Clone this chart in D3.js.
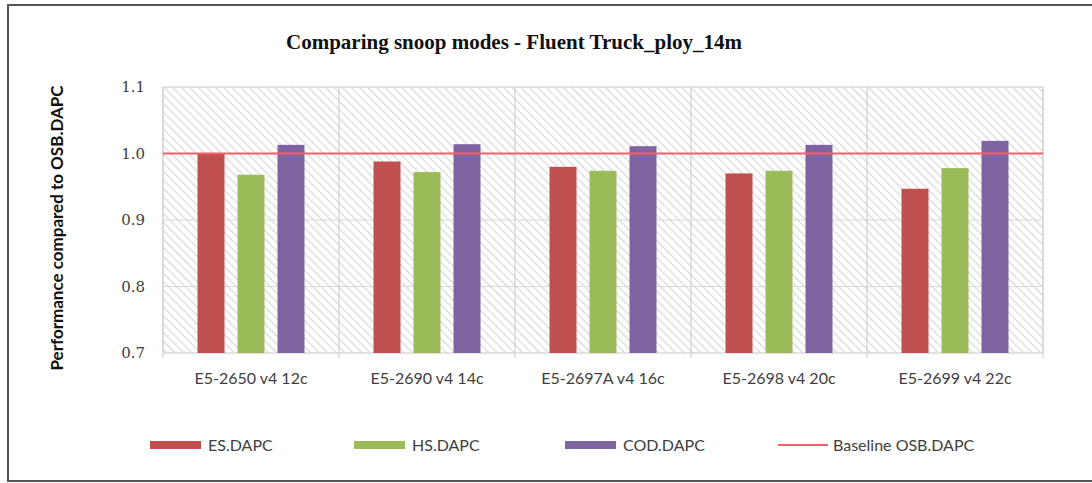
<!DOCTYPE html>
<html>
<head>
<meta charset="utf-8">
<script src="https://cdn.jsdelivr.net/npm/d3@7"></script>
<style>
  body { margin: 0; background: #fff; }
  svg { font-family: Lato, "Open Sans", sans-serif; }
</style>
</head>
<body>
<div id="chart"></div>
<script>
const width = 1092,
   height = 483,
   margin = {top: 87, right: 49, bottom: 130, left: 163};

const categories = ['E5-2650 v4 12c', 'E5-2690 v4 14c', 'E5-2697A v4 16c', 'E5-2698 v4 20c', 'E5-2699 v4 22c'];
const seriesNames = ['ES.DAPC', 'HS.DAPC', 'COD.DAPC'];
const esValues = [1.000, 0.988, 0.980, 0.970, 0.947];
const hsValues = [0.968, 0.972, 0.974, 0.974, 0.978];
const codValues = [1.013, 1.014, 1.011, 1.013, 1.019];
const baselineValue = 1.0;
const yTicks = [0.7, 0.8, 0.9, 1.0, 1.1];
const colors = ['#c0504d', '#9bbb59', '#8064a2'];
const baselineColor = '#f2606a';

const series = [esValues, hsValues, codValues];

const svg = d3.select('#chart')
   .append('svg')
   .attr('width', width)
   .attr('height', height);

// outer frame (left, top, bottom)
svg.append('path')
   .attr('d', `M${width},5 H8 V481 H${width}`)
   .attr('fill', 'none')
   .attr('stroke', '#555')
   .attr('stroke-width', 2);

const defs = svg.append('defs');
const hatch = defs.append('pattern')
   .attr('id', 'hatch')
   .attr('patternUnits', 'userSpaceOnUse')
   .attr('width', 6)
   .attr('height', 6)
   .attr('patternTransform', 'rotate(-45)');
hatch.append('rect').attr('width', 6).attr('height', 6).attr('fill', '#fff');
hatch.append('line')
   .attr('x1', 0).attr('y1', 0).attr('x2', 0).attr('y2', 6)
   .attr('stroke', '#d6d6d6')
   .attr('stroke-width', 2.2);

const plotW = width - margin.left - margin.right,
   plotH = 266;

const x = d3.scaleBand()
   .domain(categories)
   .range([0, plotW])
   .padding(0);

const xInner = d3.scaleBand()
   .domain(d3.range(series.length))
   .range([0, x.bandwidth()])
   .paddingInner(0.325)
   .paddingOuter(0.8625);

const y = d3.scaleLinear()
   .domain([0.7, 1.1])
   .range([plotH, 0]);

const g = svg.append('g')
   .attr('transform', `translate(${margin.left}, ${margin.top})`);

g.append('rect')
   .attr('width', plotW)
   .attr('height', plotH)
   .attr('fill', 'url(#hatch)')
   .attr('stroke', '#d9d9d9');

// horizontal gridlines
g.selectAll('.grid-y')
   .data(yTicks)
   .join('line')
   .attr('class', 'grid-y')
   .attr('x1', 0)
   .attr('x2', plotW)
   .attr('y1', d => y(d))
   .attr('y2', d => y(d))
   .attr('stroke', '#d9d9d9')
   .attr('stroke-width', 1.2);

// vertical category separators
g.selectAll('.grid-x')
   .data(categories.slice(1).concat(['__end']))
   .join('line')
   .attr('class', 'grid-x')
   .attr('x1', d => d === '__end' ? plotW : x(d))
   .attr('x2', d => d === '__end' ? plotW : x(d))
   .attr('y1', 0)
   .attr('y2', plotH + 5)
   .attr('stroke', '#d0d0d0')
   .attr('stroke-width', 1.2);

g.append('line')
   .attr('x1', 0).attr('x2', 0)
   .attr('y1', 0).attr('y2', plotH + 5)
   .attr('stroke', '#d0d0d0')
   .attr('stroke-width', 1.2);

// y axis labels
const yAxis = g.append('g')
   .call(d3.axisLeft(y).tickValues(yTicks).tickFormat(d3.format('.1f')).tickSize(0).tickPadding(18));
yAxis.select('.domain').remove();
yAxis.selectAll('text')
   .style('font-family', '"DejaVu Serif", serif')
   .style('font-size', '15px')
   .attr('fill', '#404040');

// x axis labels
const xAxis = g.append('g')
   .attr('transform', `translate(0, ${plotH})`)
   .call(d3.axisBottom(x).tickSize(0).tickPadding(20));
xAxis.select('.domain').remove();
xAxis.selectAll('text')
   .style('font-family', 'Lato, sans-serif')
   .style('font-size', '16px')
   .attr('fill', '#404040');

// bars
const groups = g.selectAll('.series')
   .data(series)
   .join('g')
   .attr('class', 'series')
   .attr('fill', (d, i) => colors[i]);

groups.each(function(vals, si) {
   d3.select(this).selectAll('rect')
      .data(vals)
      .join('rect')
      .attr('x', (d, ci) => x(categories[ci]) + xInner(si))
      .attr('width', xInner.bandwidth())
      .attr('y', d => y(d))
      .attr('height', d => y(0.7) - y(d));
});

// baseline
g.append('line')
   .attr('x1', 0)
   .attr('x2', plotW)
   .attr('y1', y(baselineValue))
   .attr('y2', y(baselineValue))
   .attr('stroke', baselineColor)
   .attr('stroke-width', 2);

// title
svg.append('text')
   .attr('x', 514)
   .attr('y', 49)
   .attr('text-anchor', 'middle')
   .style('font-family', '"Liberation Serif", serif')
   .style('font-weight', 'bold')
   .style('font-size', '21px')
   .attr('fill', '#111')
   .text('Comparing snoop modes - Fluent Truck_ploy_14m');

// y axis title
svg.append('text')
   .attr('transform', `translate(63, 228) rotate(-90)`)
   .attr('text-anchor', 'middle')
   .style('font-weight', 'bold')
   .style('font-size', '17px')
   .attr('fill', '#111')
   .text('Performance compared to OSB.DAPC');

// legend
const legendItems = [
   {name: seriesNames[0], color: colors[0], type: 'bar', x: 150},
   {name: seriesNames[1], color: colors[1], type: 'bar', x: 354},
   {name: seriesNames[2], color: colors[2], type: 'bar', x: 565},
   {name: 'Baseline OSB.DAPC', color: baselineColor, type: 'line', x: 778}
];

const legend = svg.selectAll('.legend')
   .data(legendItems)
   .join('g')
   .attr('class', 'legend')
   .attr('transform', d => `translate(${d.x}, 445)`);

legend.filter(d => d.type === 'bar')
   .append('rect')
   .attr('y', -4)
   .attr('width', 51)
   .attr('height', 8)
   .attr('fill', d => d.color);

legend.filter(d => d.type === 'line')
   .append('line')
   .attr('x1', 0).attr('x2', 50)
   .attr('y1', 0).attr('y2', 0)
   .attr('stroke', d => d.color)
   .attr('stroke-width', 2);

legend.append('text')
   .attr('x', d => d.type === 'bar' ? 58 : 55)
   .attr('y', 6)
   .style('font-size', '16px')
   .attr('fill', '#404040')
   .text(d => d.name);
</script>
</body>
</html>
